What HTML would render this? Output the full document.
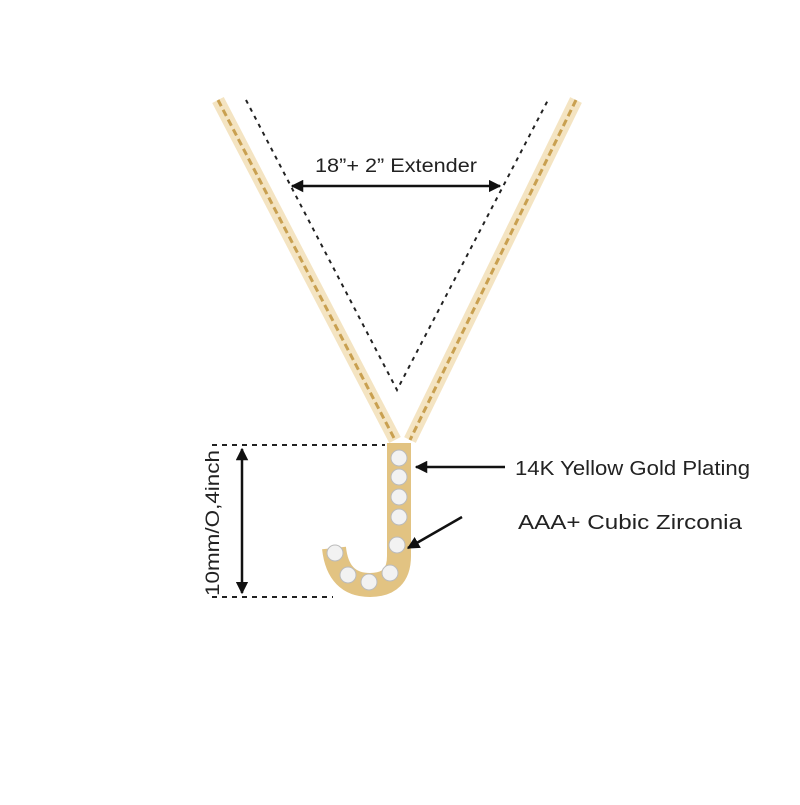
<!DOCTYPE html>
<html><head><style>
body{margin:0;background:#fff;width:800px;height:800px;overflow:hidden}
</style></head><body>
<svg width="800" height="800" viewBox="0 0 800 800" xmlns="http://www.w3.org/2000/svg">
<defs>
<marker id="ah" viewBox="0 0 10 10" refX="9" refY="5" markerWidth="5" markerHeight="5" orient="auto-start-reverse"><path d="M0,0 L10,5 L0,10 z" fill="#111"/></marker>
</defs>
<!-- chains -->
<path d="M218,100 L395,440" stroke="#ecd29a" stroke-width="13" fill="none" opacity="0.6"/>
<path d="M218,100 L395,440" stroke="#c9a050" stroke-width="3" stroke-dasharray="7,4" fill="none"/>
<path d="M576,100 L410,440" stroke="#ecd29a" stroke-width="13" fill="none" opacity="0.6"/>
<path d="M576,100 L410,440" stroke="#c9a050" stroke-width="3" stroke-dasharray="7,4" fill="none"/>
<!-- dotted V -->
<path d="M246,100 L397,390 L548,100" stroke="#222" stroke-width="2" stroke-dasharray="4,5" fill="none"/>
<!-- width arrow -->
<line x1="292" y1="186" x2="500" y2="186" stroke="#111" stroke-width="2.5" marker-start="url(#ah)" marker-end="url(#ah)"/>
<text x="315" y="172" textLength="162" lengthAdjust="spacingAndGlyphs" font-family="Liberation Sans, sans-serif" font-size="19" fill="#222">18”+ 2” Extender</text>
<!-- J pendant -->
<path d="M399,443 L399,556 Q399,585 370,585 Q338,585 334,548" stroke="#e2c382" stroke-width="24" fill="none" stroke-linejoin="round"/>
<g fill="#f2f2f2" stroke="#bbb" stroke-width="1">
<circle cx="399" cy="458" r="8"/><circle cx="399" cy="477" r="8"/><circle cx="399" cy="497" r="8"/><circle cx="399" cy="517" r="8"/><circle cx="397" cy="545" r="8"/>
<circle cx="390" cy="573" r="8"/><circle cx="369" cy="582" r="8"/><circle cx="348" cy="575" r="8"/><circle cx="335" cy="553" r="8"/>
</g>
<!-- height dims -->
<path d="M212,445 L385,445 M212,597 L333,597" stroke="#222" stroke-width="2" stroke-dasharray="5,5"/>
<line x1="242" y1="449" x2="242" y2="593" stroke="#111" stroke-width="2.5" marker-start="url(#ah)" marker-end="url(#ah)"/>
<text transform="translate(219,523) rotate(-90)" textLength="146" lengthAdjust="spacingAndGlyphs" font-family="Liberation Sans, sans-serif" font-size="19" text-anchor="middle" fill="#222">10mm/O,4inch</text>
<!-- labels -->
<line x1="505" y1="467" x2="416" y2="467" stroke="#111" stroke-width="2.5" marker-end="url(#ah)"/>
<text x="515" y="475" textLength="235" lengthAdjust="spacingAndGlyphs" font-family="Liberation Sans, sans-serif" font-size="20" fill="#222">14K Yellow Gold Plating</text>
<line x1="462" y1="517" x2="408" y2="548" stroke="#111" stroke-width="2.5" marker-end="url(#ah)"/>
<text x="518" y="529" textLength="224" lengthAdjust="spacingAndGlyphs" font-family="Liberation Sans, sans-serif" font-size="20" fill="#222">AAA+ Cubic Zirconia</text>
</svg>
</body></html>
